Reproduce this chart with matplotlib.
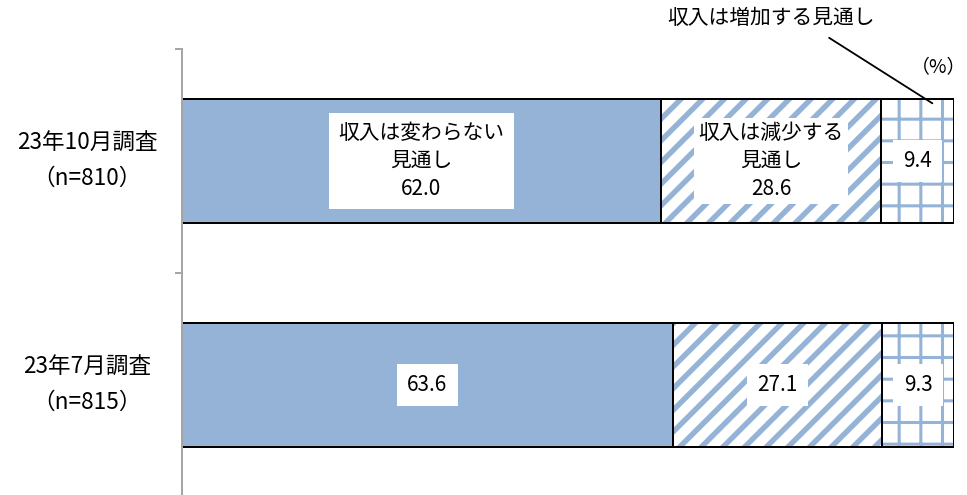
import matplotlib
matplotlib.use('Agg')
import matplotlib.pyplot as plt
from matplotlib import transforms

plt.rcParams['font.family'] = ['Noto Sans CJK JP', 'DejaVu Sans']

# data
surveys = ['23年7月調査\n（n=815）', '23年10月調査\n（n=810）']
unchanged = [63.6, 62.0]
decrease = [27.1, 28.6]
increase = [9.3, 9.4]
seg_names = ['収入は変わらない\n見通し', '収入は減少する\n見通し', '収入は増加する見通し']

blue = '#95B3D7'
DPI = 130
W, H = 967, 495
fig = plt.figure(figsize=(W / DPI, H / DPI), dpi=DPI)
ax = fig.add_axes([182 / W, -2 / H, 772 / W, 448 / H])

ypos = [0, 1]
bh = 0.555

# plain fill
ax.barh(ypos, unchanged, height=bh, color=blue, edgecolor='black', linewidth=1.1)

# diagonal stripes
left2 = unchanged
plt.rcParams['hatch.linewidth'] = 3.0
ax.barh(ypos, decrease, left=left2, height=bh, color='white', edgecolor=blue,
        hatch='//', linewidth=0)
ax.barh(ypos, decrease, left=left2, height=bh, color='none', edgecolor='black', linewidth=1.1)

# grid pattern
left3 = [a + b for a, b in zip(unchanged, decrease)]
plt.rcParams['hatch.linewidth'] = 1.7
ax.barh(ypos, increase, left=left3, height=bh, color='white', edgecolor=blue,
        hatch='+', linewidth=0)
ax.barh(ypos, increase, left=left3, height=bh, color='none', edgecolor='black', linewidth=1.1)

ax.set_xlim(0, 100)
ax.set_ylim(-0.5, 1.5)
ax.set_xticks([])
ax.set_yticks([-0.5, 0.5, 1.5])
ax.set_yticklabels([])
ax.tick_params(axis='y', direction='out', length=4, width=1.1, color='#A6A6A6')
for s in ['top', 'right', 'bottom']:
    ax.spines[s].set_visible(False)
ax.spines['left'].set_color('#A6A6A6')
ax.spines['left'].set_linewidth(1.1)

fs = 11.5
# category labels
trans = transforms.blended_transform_factory(ax.transAxes, ax.transData)
for y, lab in zip(ypos, surveys):
    ax.text((87 - 182) / 772, y, lab, transform=trans, ha='center', va='center',
            fontsize=12.5, linespacing=1.7)

# value labels
for i, y in enumerate(ypos):
    c1 = unchanged[i] / 2
    c2 = unchanged[i] + decrease[i] / 2
    c3 = left3[i] + increase[i] / 2
    if i == 1:
        t1 = f'{seg_names[0]}\n{unchanged[i]:.1f}'
        t2 = f'{seg_names[1]}\n{decrease[i]:.1f}'
        ax.text(c1, y, t1, ha='center', va='center', fontsize=fs, linespacing=1.35,
                bbox=dict(boxstyle='square,pad=0.45', facecolor='white', edgecolor='none'))
        ax.text(c2, y, t2, ha='center', va='center', fontsize=fs, linespacing=1.35,
                bbox=dict(boxstyle='square,pad=0.2', facecolor='white', edgecolor='none'))
    else:
        ax.text(c1, y, f'{unchanged[i]:.1f}', ha='center', va='center', fontsize=fs,
                bbox=dict(boxstyle='square,pad=0.5', facecolor='white', edgecolor='none'))
        ax.text(c2, y, f'{decrease[i]:.1f}', ha='center', va='center', fontsize=fs,
                bbox=dict(boxstyle='square,pad=0.5', facecolor='white', edgecolor='none'))
    ax.text(c3, y, f'{increase[i]:.1f}', ha='center', va='center', fontsize=fs,
            bbox=dict(boxstyle='square,pad=0.5', facecolor='white', edgecolor='none'))

# callout for the increase segment
ax.annotate(seg_names[2], xy=(97.2, 1 + bh / 2 - 0.02), xycoords='data',
            xytext=(771 / W, 1 - 18 / H), textcoords='figure fraction',
            ha='center', va='center', fontsize=fs,
            arrowprops=dict(arrowstyle='-', color='black', lw=1.0,
                            shrinkA=0, shrinkB=0,
                            relpos=(0.78, -0.4)),
            annotation_clip=False)
fig.text(966 / W, 1 - 68 / H, '（%）', ha='right', va='center', fontsize=10.5)

fig.savefig('out.png', dpi=DPI)
